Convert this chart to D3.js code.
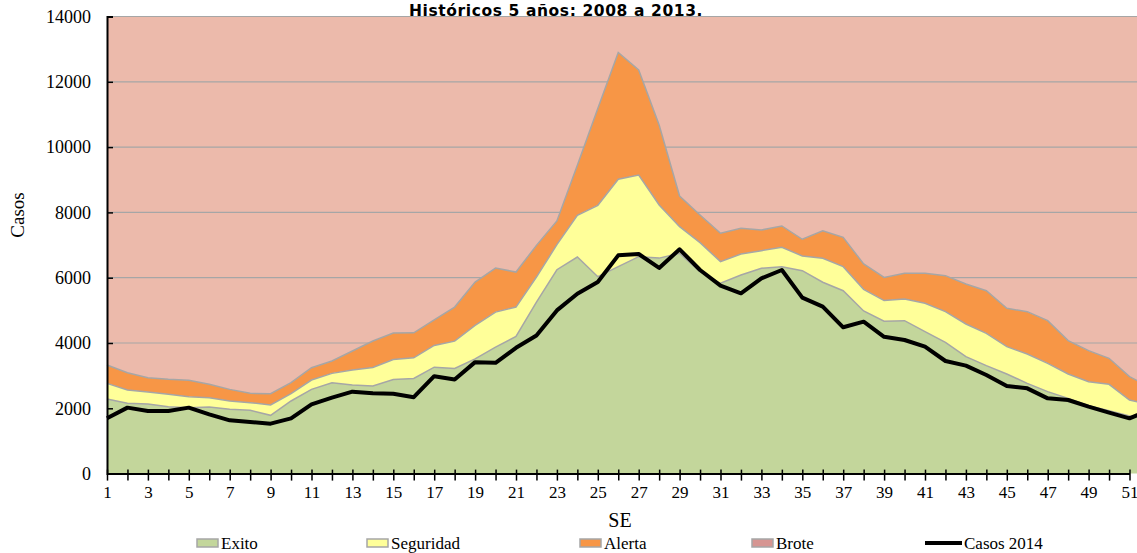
<!DOCTYPE html>
<html><head><meta charset="utf-8">
<script src="https://cdn.jsdelivr.net/npm/d3@7"></script>
<style>
html,body{margin:0;padding:0;background:#fff;}
svg{display:block;}
</style></head>
<body>
<svg id="chart" width="1137" height="553"></svg>
<script>
const weeks = d3.range(1, 53);
const exito = [2285,2152,2132,2050,2020,2040,1969,1938,1785,2224,2580,2785,2713,2685,2882,2913,3260,3219,3516,3873,4200,5253,6244,6633,6031,6337,6644,6600,6747,6185,5829,6083,6288,6338,6215,5860,5602,4980,4665,4684,4347,4021,3582,3306,3051,2765,2510,2305,2081,1928,1764,1750];
const seguridad = [2764,2560,2499,2428,2356,2326,2224,2173,2101,2448,2866,3070,3172,3252,3495,3546,3924,4057,4538,4946,5100,6020,7011,7910,8217,9014,9146,8227,7563,7073,6491,6726,6828,6931,6665,6594,6338,5645,5300,5348,5215,4960,4582,4296,3888,3663,3377,3051,2816,2734,2254,2100];
const alerta = [3325,3090,2938,2887,2856,2734,2580,2458,2448,2785,3244,3448,3754,4060,4303,4313,4711,5100,5866,6296,6173,6990,7737,9443,11180,12898,12362,10678,8503,7921,7360,7513,7461,7584,7177,7440,7238,6420,6008,6134,6134,6063,5807,5603,5062,4960,4684,4072,3765,3531,2969,2650];
const brote = weeks.map(() => 14000);
const casos2014 = [1693,2020,1918,1918,2020,1816,1632,1581,1530,1693,2122,2326,2509,2460,2443,2340,2984,2882,3414,3393,3853,4231,4998,5509,5866,6684,6726,6300,6870,6236,5756,5522,5982,6236,5388,5112,4481,4653,4190,4092,3888,3449,3306,3020,2683,2611,2305,2254,2050,1866,1693,1950];
const yTicks = [0,2000,4000,6000,8000,10000,12000,14000];
const xTickLabels = d3.range(1, 52, 2);
const seriesNames = ["Exito","Seguridad","Alerta","Brote","Casos 2014"];

const colors = {Exito:"#C3D69B", Seguridad:"#FFFF99", Alerta:"#F79646", Brote:"#ECBAAB", BroteLegend:"#D69592"};
const grey = "#A6A6A6";

const svg = d3.select("#chart");
const x = d3.scaleLinear().domain([1, 51]).range([107, 1129.5]);
const y = d3.scaleLinear().domain([0, 14000]).range([473.6, 16.5]);

const serif = "'Liberation Serif', 'DejaVu Serif', serif";

const layer = (lo, hi) => d3.area().x((d,i)=>x(weeks[i])).y0((d,i)=>y(lo[i])).y1((d,i)=>y(hi[i]));
const zeros = weeks.map(()=>0);

svg.append("path").datum(weeks).attr("d", layer(alerta, brote)).attr("fill", colors.Brote);

// gridlines
svg.append("g").selectAll("line").data(yTicks.filter(t=>t>0)).join("line")
  .attr("x1", x(1)).attr("x2", 1137).attr("y1", d=>y(d)).attr("y2", d=>y(d))
  .attr("stroke", grey).attr("stroke-width", 1.2);

svg.append("path").datum(weeks).attr("d", layer(seguridad, alerta)).attr("fill", colors.Alerta);
svg.append("path").datum(weeks).attr("d", layer(exito, seguridad)).attr("fill", colors.Seguridad);
svg.append("path").datum(weeks).attr("d", layer(zeros, exito)).attr("fill", colors.Exito);

const line = d3.line().x((d,i)=>x(weeks[i])).y(d=>y(d));
[exito, seguridad, alerta].forEach(s => {
  svg.append("path").datum(s).attr("d", line).attr("fill","none").attr("stroke", grey).attr("stroke-width", 1.5);
});

svg.append("path").datum(casos2014).attr("d", line).attr("fill","none").attr("stroke","#000").attr("stroke-width",4).attr("stroke-linejoin","round");

// axes
const yAxis = d3.axisLeft(y).tickValues(yTicks).tickSize(-6).tickPadding(16).tickFormat(d3.format("d"));
const gy = svg.append("g").attr("transform", `translate(${x(1)},0)`).call(yAxis);
gy.select(".domain").attr("stroke","#000").attr("stroke-width",2);
gy.selectAll(".tick line").attr("stroke","#000").attr("stroke-width",1.5);
gy.selectAll("text").attr("font-family", serif).attr("font-size", 18).attr("fill","#000");

const xAxis = d3.axisBottom(x).tickValues(weeks).tickSize(7).tickSizeOuter(0).tickFormat(d => xTickLabels.includes(d) ? d : "");
const gx = svg.append("g").attr("transform", `translate(0,${y(0)})`).call(xAxis);
gx.select(".domain").attr("stroke","#000").attr("stroke-width",2);
gx.selectAll(".tick line").attr("stroke","#000").attr("stroke-width",1.5).attr("y1",-4);
gx.selectAll("text").attr("font-family", serif).attr("font-size", 17).attr("fill","#000").attr("dy","0.85em");

// titles
svg.append("text").attr("x", 556).attr("y", 16).attr("text-anchor","middle")
  .attr("font-family","'DejaVu Sans', sans-serif").attr("font-weight","bold").attr("font-size",15.5)
  .attr("letter-spacing", 0.6)
  .text("Históricos 5 años: 2008 a 2013.");
svg.append("text").attr("transform","translate(24,215) rotate(-90)").attr("text-anchor","middle")
  .attr("font-family", serif).attr("font-size",19).text("Casos");
svg.append("text").attr("x", 620).attr("y", 527).attr("text-anchor","middle")
  .attr("font-family", serif).attr("font-size",20).text("SE");

// legend
const legendX = [197, 367, 580, 752, 925];
const lg = svg.append("g");
seriesNames.forEach((name, i) => {
  const g = lg.append("g").attr("transform", `translate(${legendX[i]},543)`);
  if (name === "Casos 2014") {
    g.append("line").attr("x1",0).attr("x2",37).attr("y1",0).attr("y2",0).attr("stroke","#000").attr("stroke-width",4);
    g.append("text").attr("x",39).attr("y",6).attr("font-family",serif).attr("font-size",17).text(name);
  } else {
    const fill = name === "Brote" ? colors.BroteLegend : colors[name];
    g.append("rect").attr("x",0).attr("y",-4).attr("width",21).attr("height",8).attr("fill",fill).attr("stroke",grey).attr("stroke-width",1.5);
    g.append("text").attr("x",24).attr("y",6).attr("font-family",serif).attr("font-size",17).text(name);
  }
});
</script>
</body></html>
